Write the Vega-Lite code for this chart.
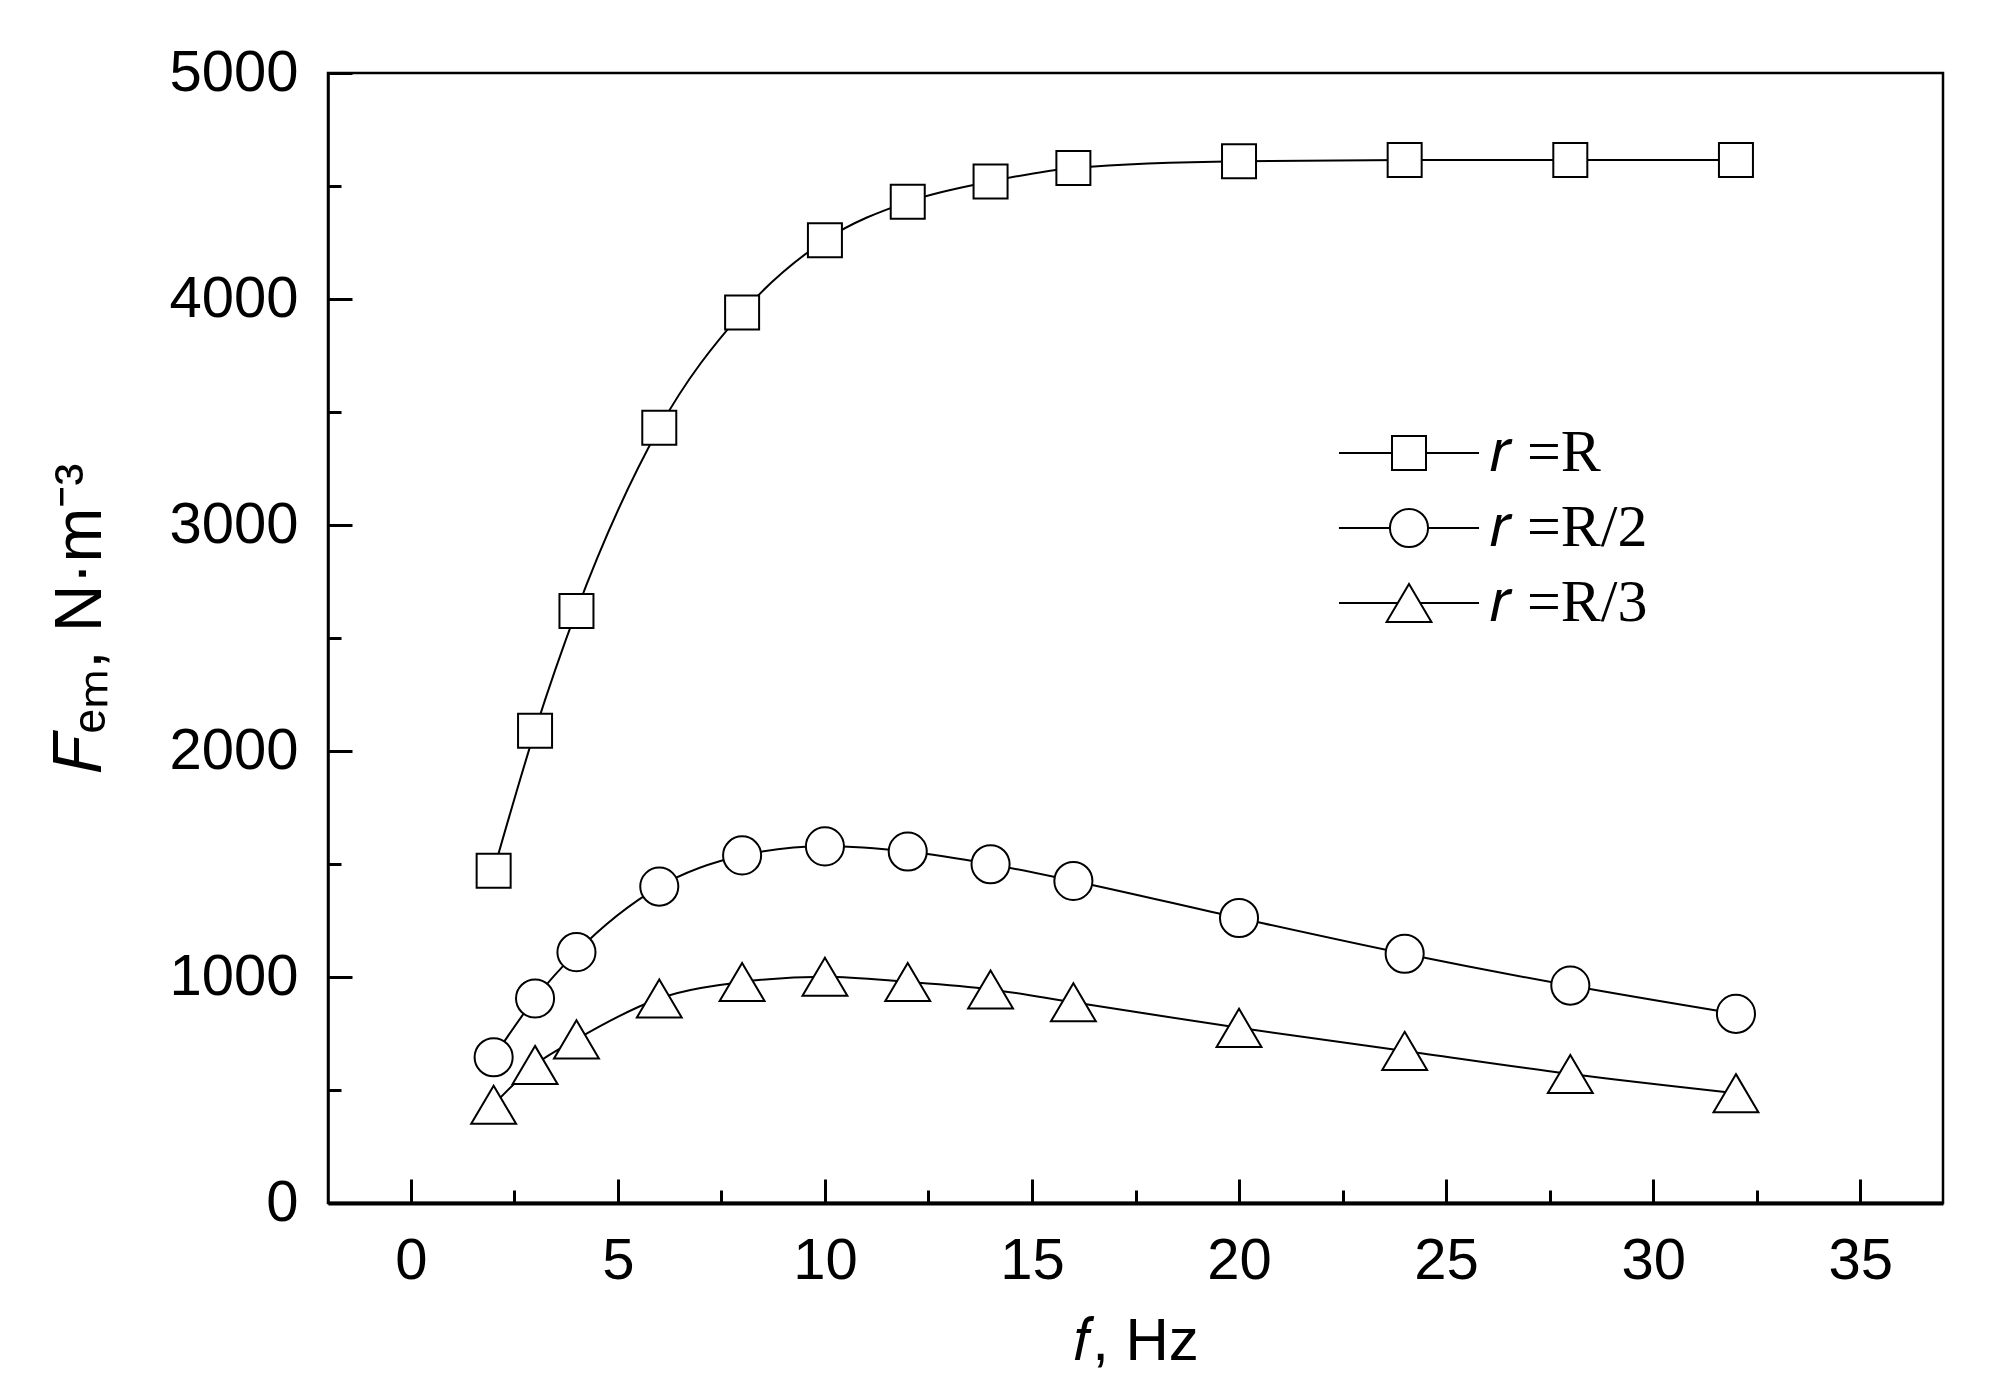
{
  "$schema": "https://vega.github.io/schema/vega-lite/v6.json",
  "width": 1615,
  "height": 1130,
  "autosize": {"type": "none"},
  "padding": {"left": 328, "top": 73, "right": 62, "bottom": 195},
  "background": "white",
  "config": {
    "view": {"stroke": "black", "strokeWidth": 2.5},
    "axis": {
      "labelFont": "Liberation Sans",
      "labelFontSize": 58,
      "labelColor": "black",
      "titleFont": "Liberation Sans",
      "titleFontWeight": "normal",
      "titleColor": "black",
      "domainColor": "black",
      "tickColor": "black",
      "tickWidth": 3,
      "grid": false
    }
  },
  "data": {
    "values": [
      {"f": 2, "F": 1470, "r": "R"},
      {"f": 3, "F": 2090, "r": "R"},
      {"f": 4, "F": 2620, "r": "R"},
      {"f": 6, "F": 3430, "r": "R"},
      {"f": 8, "F": 3940, "r": "R"},
      {"f": 10, "F": 4260, "r": "R"},
      {"f": 12, "F": 4430, "r": "R"},
      {"f": 14, "F": 4520, "r": "R"},
      {"f": 16, "F": 4580, "r": "R"},
      {"f": 20, "F": 4610, "r": "R"},
      {"f": 24, "F": 4615, "r": "R"},
      {"f": 28, "F": 4615, "r": "R"},
      {"f": 32, "F": 4615, "r": "R"},
      {"f": 2, "F": 645, "r": "R/2"},
      {"f": 3, "F": 905, "r": "R/2"},
      {"f": 4, "F": 1110, "r": "R/2"},
      {"f": 6, "F": 1400, "r": "R/2"},
      {"f": 8, "F": 1538, "r": "R/2"},
      {"f": 10, "F": 1578, "r": "R/2"},
      {"f": 12, "F": 1555, "r": "R/2"},
      {"f": 14, "F": 1499, "r": "R/2"},
      {"f": 16, "F": 1425, "r": "R/2"},
      {"f": 20, "F": 1261, "r": "R/2"},
      {"f": 24, "F": 1103, "r": "R/2"},
      {"f": 28, "F": 962, "r": "R/2"},
      {"f": 32, "F": 837, "r": "R/2"},
      {"f": 2, "F": 435, "r": "R/3"},
      {"f": 3, "F": 611, "r": "R/3"},
      {"f": 4, "F": 724, "r": "R/3"},
      {"f": 6, "F": 905, "r": "R/3"},
      {"f": 8, "F": 978, "r": "R/3"},
      {"f": 10, "F": 1001, "r": "R/3"},
      {"f": 12, "F": 978, "r": "R/3"},
      {"f": 14, "F": 945, "r": "R/3"},
      {"f": 16, "F": 888, "r": "R/3"},
      {"f": 20, "F": 775, "r": "R/3"},
      {"f": 24, "F": 673, "r": "R/3"},
      {"f": 28, "F": 571, "r": "R/3"},
      {"f": 32, "F": 486, "r": "R/3"}
    ]
  },
  "encoding": {
    "x": {
      "field": "f",
      "type": "quantitative",
      "scale": {"domain": [-2, 37], "nice": false, "zero": false},
      "axis": {
        "title": "𝑓, Hz",
        "titleFontSize": 60,
        "titlePadding": 22,
        "values": [0, 2.5, 5, 7.5, 10, 12.5, 15, 17.5, 20, 22.5, 25, 27.5, 30, 32.5, 35],
        "labelExpr": "datum.value % 5 === 0 ? format(datum.value, 'd') : ''",
        "tickSize": {"condition": {"test": "datum.value % 5 === 0", "value": -24}, "value": -13},
        "labelPadding": 53,
        "domainWidth": 4
      }
    },
    "y": {
      "field": "F",
      "type": "quantitative",
      "scale": {"domain": [0, 5000], "nice": false},
      "axis": {
        "title": "𝐹ₑₘ, N·m⁻³",
        "titleFontSize": 66,
        "titlePadding": 54,
        "titleY": 545,
        "values": [0, 500, 1000, 1500, 2000, 2500, 3000, 3500, 4000, 4500, 5000],
        "labelExpr": "datum.value % 1000 === 0 ? format(datum.value, 'd') : ''",
        "tickSize": {"condition": {"test": "datum.value % 1000 === 0", "value": -24}, "value": -13},
        "labelPadding": 54,
        "domainWidth": 2.5
      }
    }
  },
  "layer": [
    {
      "mark": {"type": "line", "interpolate": "monotone", "stroke": "black", "strokeWidth": 2},
      "encoding": {"detail": {"field": "r", "type": "nominal"}}
    },
    {
      "mark": {"type": "point", "filled": true, "fill": "white", "stroke": "black", "strokeWidth": 2, "size": 1156, "opacity": 1},
      "encoding": {
        "shape": {
          "field": "r",
          "type": "nominal",
          "scale": {
            "domain": ["R", "R/2", "R/3"],
            "range": [
              "M-1,-1H1V1H-1Z",
              "M1.12,0A1.12,1.12,0,1,1,-1.12,0A1.12,1.12,0,1,1,1.12,0Z",
              "M0,-1.12L1.32,1.12H-1.32Z"
            ]
          },
          "legend": null
        }
      }
    },
    {
      "transform": [{"filter": "datum.f < 0"}],
      "mark": {"type": "point", "filled": false, "stroke": "black", "strokeWidth": 2, "size": 1156, "opacity": 1},
      "encoding": {
        "shape": {
          "field": "r",
          "type": "nominal",
          "scale": {
            "domain": ["R", "R/2", "R/3"],
            "range": [
              "M-4.12,0H-1M1,0H4.12M-1,-1H1V1H-1Z",
              "M-4.12,0H-1.12M1.12,0H4.12M1.12,0A1.12,1.12,0,1,1,-1.12,0A1.12,1.12,0,1,1,1.12,0Z",
              "M-4.12,0H-0.66M0.66,0H4.12M0,-1.12L1.32,1.12H-1.32Z"
            ]
          },
          "legend": {
            "orient": "none",
            "legendX": 1051,
            "legendY": 350,
            "title": null,
            "symbolSize": 1156,
            "symbolStrokeWidth": 2,
            "symbolStrokeColor": "black",
            "symbolOpacity": 1,
            "labelExpr": "'𝑟 =' + datum.label",
            "labelFont": "Liberation Serif",
            "labelFontSize": 60,
            "labelColor": "black",
            "labelOffset": 51,
            "rowPadding": 15,
            "labelLimit": 400
          }
        }
      }
    }
  ],
  "resolve": {"scale": {"shape": "independent"}, "legend": {"shape": "independent"}}
}
